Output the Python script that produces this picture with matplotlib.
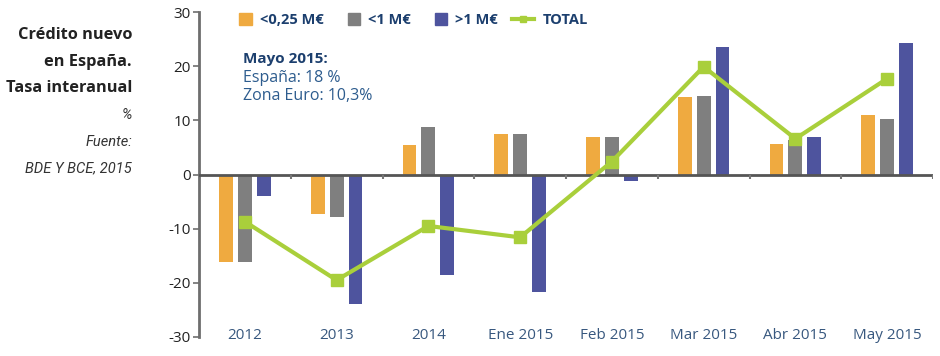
import matplotlib

matplotlib.use("Agg")
import matplotlib.pyplot as plt
from matplotlib.legend_handler import HandlerPatch
from matplotlib.lines import Line2D
from matplotlib.patches import Patch, Rectangle

categories = ["2012", "2013", "2014", "Ene 2015", "Feb 2015", "Mar 2015", "Abr 2015", "May 2015"]
small = [-16.1, -7.3, 5.5, 7.4, 6.9, 14.4, 5.7, 10.9]     # <0,25 M€
medium = [-16.2, -7.9, 8.8, 7.4, 6.9, 14.5, 6.3, 10.3]    # <1 M€
large = [-4.0, -23.9, -18.5, -21.7, -1.2, 23.6, 7.0, 24.3]  # >1 M€
total = [-8.7, -19.5, -9.5, -11.6, 2.4, 19.9, 6.6, 17.7]
series_labels = ["<0,25 M€", "<1 M€", ">1 M€", "TOTAL"]
yticks = [-30, -20, -10, 0, 10, 20, 30]

ORANGE = "#EFAA40"
GRAY = "#7F7F7F"
BLUE = "#4E549E"
GREEN = "#A9CF3B"
NAVY = "#1C3F6E"

plt.rcParams["font.family"] = ["Open Sans", "DejaVu Sans"]


def square_patch(legend, orig_handle, xdescent, ydescent, width, height, fontsize):
    """Legend swatch as a small square at the right of the handle box."""
    side = height * 1.1
    return Rectangle((-xdescent + width - side, -ydescent + (height - side) / 2), side, side)


fig = plt.figure(figsize=(9.4, 3.56), dpi=100)
ax = fig.add_axes([199 / 940, 19 / 356, 734 / 940, 325 / 356])

x = list(range(len(categories)))
w, step = 0.15, 0.205
ax.bar([i - step for i in x], small, width=w, color=ORANGE, zorder=2)
ax.bar(x, medium, width=w, color=GRAY, zorder=2)
ax.bar([i + step for i in x], large, width=w, color=BLUE, zorder=2)
ax.plot(x, total, color=GREEN, lw=3, marker="s", ms=9, zorder=4)

ax.set_xlim(-0.5, len(categories) - 0.5)
ax.set_ylim(-30, 30)

# zero line with small ticks at group boundaries
ax.axhline(0, color="#555555", lw=2, zorder=3)
ax.vlines([i + 0.5 for i in x], -0.9, 0, color="#777777", lw=1.5, zorder=3)

for side in ("top", "right", "bottom"):
    ax.spines[side].set_visible(False)
ax.spines["left"].set_color("#6E6E6E")
ax.spines["left"].set_linewidth(2)

ax.set_yticks(yticks)
ax.set_yticklabels([str(v) for v in yticks], fontsize=11, color="#222222")
ax.tick_params(axis="y", length=4, width=1.2, color="#6E6E6E", pad=2)
ax.set_xticks(x)
ax.set_xticklabels(categories, fontsize=11, color="#38587F")
ax.tick_params(axis="x", length=0, pad=-6.5)

handles = [Patch(color=ORANGE), Patch(color=GRAY), Patch(color=BLUE),
           Line2D([], [], color=GREEN, lw=3, marker="s", ms=5)]
leg = fig.legend(handles, series_labels, ncol=4, loc="center left",
                 bbox_to_anchor=(216 / 940, 1 - 20 / 356), frameon=False,
                 handlelength=1.55, handleheight=0.8, handletextpad=0.55,
                 columnspacing=0.95, prop={"weight": "bold", "size": 10.5},
                 handler_map={Patch: HandlerPatch(patch_func=square_patch)})
for t in leg.get_texts():
    t.set_color(NAVY)

fig.text(243 / 940, 1 - 59 / 356, "Mayo 2015:", fontsize=11, weight="bold",
         color=NAVY, va="center")
fig.text(243 / 940, 1 - 78 / 356, "España: 18 %", fontsize=11.5,
         color="#2D5C8E", va="center")
fig.text(243 / 940, 1 - 96 / 356, "Zona Euro: 10,3%", fontsize=11.5,
         color="#2D5C8E", va="center")

title_lines = ["Crédito nuevo", "en España.", "Tasa interanual"]
for k, line in enumerate(title_lines):
    fig.text(132 / 940, 1 - (35 + 26.5 * k) / 356, line, fontsize=11.8,
             weight="bold", color="#222222", ha="right", va="center")
notes = ["%", "Fuente:", "BDE Y BCE, 2015"]
for k, line in enumerate(notes):
    fig.text(132 / 940, 1 - (115 + 26.5 * k) / 356, line, fontsize=10.5,
             style="italic", color="#333333", ha="right", va="center",
             family=["Roboto", "DejaVu Sans"])

fig.savefig("out.png", dpi=100)
